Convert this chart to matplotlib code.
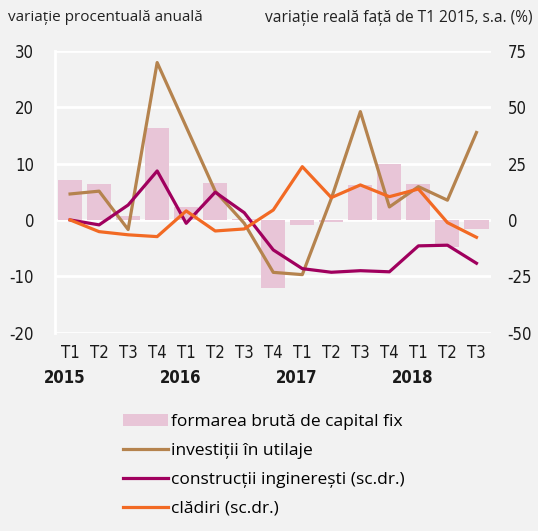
import matplotlib.pyplot as plt
import matplotlib.transforms as mtransforms
from matplotlib import font_manager
import numpy as np

quarters = ["T1", "T2", "T3", "T4", "T1", "T2", "T3", "T4",
            "T1", "T2", "T3", "T4", "T1", "T2", "T3"]
years = {0: "2015", 4: "2016", 8: "2017", 12: "2018"}

# left axis
capital_fix = [7.1, 6.3, 0.7, 16.3, 2.3, 6.6, 0.1, -12.1,
               -0.9, -0.3, 6.2, 10.0, 6.3, -4.8, -1.6]
utilaje = [4.6, 5.1, -1.7, 27.9, 16.5, 5.1, -0.6, -9.3,
           -9.7, 3.8, 19.2, 2.3, 5.9, 3.5, 15.5]
# right axis
constructii = [0.0, -2.2, 6.6, 21.7, -1.5, 12.3, 3.2, -13.3,
               -21.6, -23.2, -22.5, -23.0, -11.5, -11.2, -19.2]
cladiri = [0.0, -5.2, -6.6, -7.4, 4.0, -4.9, -4.0, 4.4,
           23.6, 9.9, 15.5, 10.3, 13.7, -1.2, -7.7]

bg = "#f2f2f2"
plt.rcParams["font.family"] = ["Open Sans", "DejaVu Sans"]
plt.rcParams["axes.unicode_minus"] = False

# narrow font for the tick labels, if one is there
names = {f.name for f in font_manager.fontManager.ttflist}
cond = [f for f in font_manager.fontManager.ttflist
        if f.name == "DejaVu Sans" and "condensed" in str(f.stretch)]
if "Liberation Sans Narrow" in names:
    tick_font = dict(family="Liberation Sans Narrow", size=13)
elif cond:
    tick_font = dict(family="DejaVu Sans", stretch="condensed", size=12)
else:
    tick_font = dict(family="Liberation Sans", size=12)

fig = plt.figure(figsize=(5.38, 5.31), dpi=100, facecolor=bg)
ax = fig.add_axes([0.1022, 0.3734, 0.8104, 0.5311])
ax.set_facecolor(bg)
x = np.arange(len(quarters))

ax.set_ylim(-20, 30)
ax.set_yticks([-20, -10, 0, 10, 20, 30])
ax.grid(axis="y", color="white", linewidth=2)
ax.set_axisbelow(True)
bars = ax.bar(x, capital_fix, width=0.83, color="#e8c5d7", zorder=2,
              label="formarea brută de capital fix")
l1, = ax.plot(x, utilaje, color="#b5834e", linewidth=2.3, zorder=3,
              label="investiții în utilaje")
ax.set_xlim(-0.52, 14.5)

ax2 = ax.twinx()
ax2.set_ylim(-50, 75)
ax2.set_yticks([-50, -25, 0, 25, 50, 75])
l2, = ax2.plot(x, constructii, color="#a0005e", linewidth=2.3,
               label="construcții inginerești (sc.dr.)")
l3, = ax2.plot(x, cladiri, color="#f26a24", linewidth=2.3,
               label="clădiri (sc.dr.)")

for a in (ax, ax2):
    for s in a.spines.values():
        s.set_visible(False)
    a.tick_params(length=0, colors="#1a1a1a")
ax.spines["left"].set_visible(True)
ax.spines["left"].set_color("white")
ax.spines["left"].set_linewidth(2)
ax.tick_params(axis="y", pad=15)
ax2.tick_params(axis="y", pad=12)
for t in ax.get_yticklabels() + ax2.get_yticklabels():
    t.set(**tick_font)

ax.set_xticks(x)
ax.set_xticklabels(quarters)
for t in ax.get_xticklabels():
    t.set(**tick_font)
ax.tick_params(axis="x", pad=8)
trans = mtransforms.blended_transform_factory(ax.transData, ax.transAxes)
for i, yr in years.items():
    ax.text(i - 0.2, -0.16, yr, transform=trans, ha="center", va="center",
            fontweight="bold", color="#1a1a1a", **tick_font)

fig.text(0.015, 0.967, "variație procentuală anuală", fontsize=11,
         va="center", color="#222222")
fig.text(0.99, 0.967, "variație reală față de T1 2015, s.a. (%)", fontsize=11.2,
         va="center", ha="right", color="#222222")

fig.legend(handles=[bars, l1, l2, l3], loc="upper left",
           bbox_to_anchor=(0.215, 0.234), frameon=False, fontsize=12.5,
           handlelength=2.6, handletextpad=0.2, labelspacing=0.74,
           borderaxespad=0)

fig.savefig("out.png", dpi=100, facecolor=bg)
